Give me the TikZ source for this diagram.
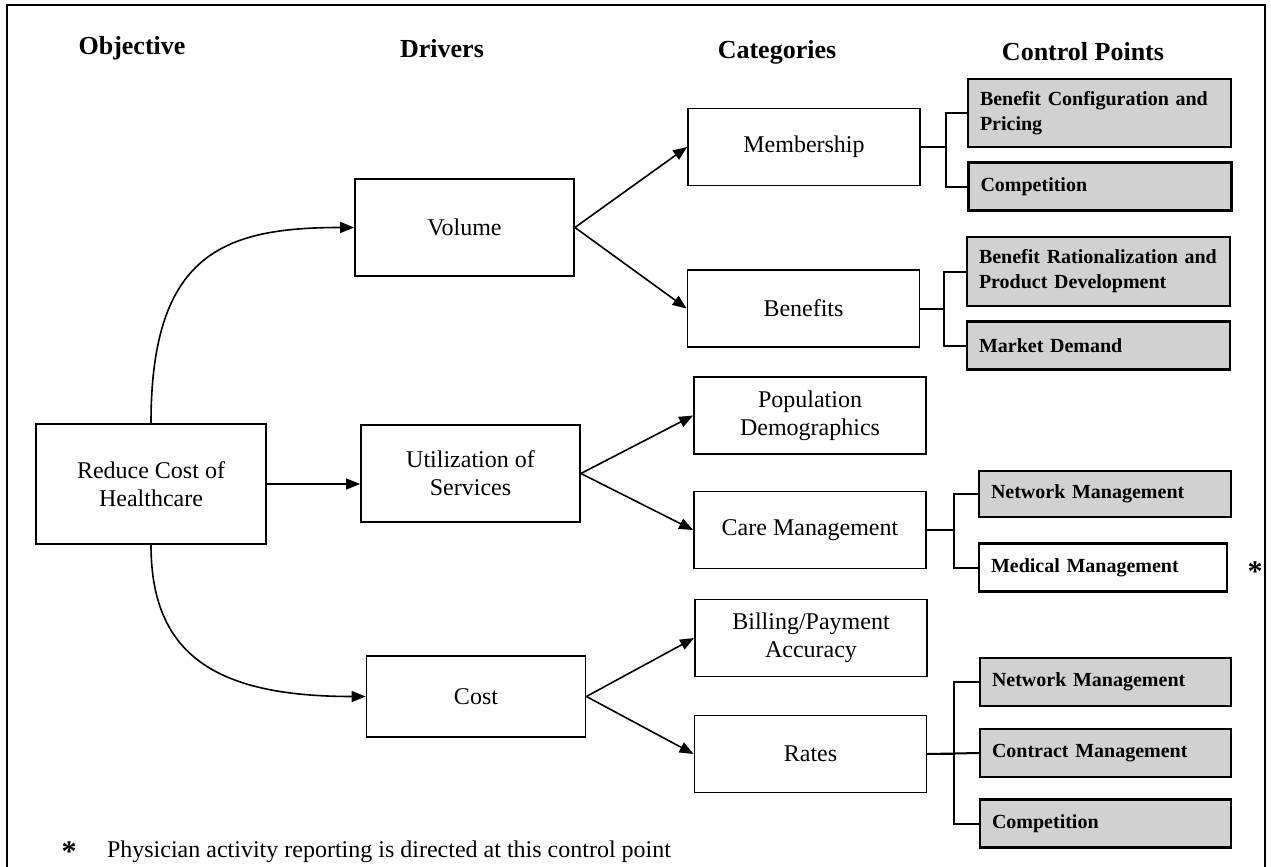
\documentclass[tikz,border=0pt]{standalone}
\usepackage{fontspec}
\setmainfont{Liberation Serif}
\usetikzlibrary{arrows.meta}

\begin{document}
\begin{tikzpicture}[x=0.5pt, y=-0.5pt,
    hdr/.style={font=\fontsize{13}{15}\selectfont\bfseries},
    objblk/.style={draw, line width=0.9pt, minimum width=115pt,
                   minimum height=60pt, align=center,
                   font=\fontsize{12}{14}\selectfont},
    drvblk/.style={objblk, minimum width=109.5pt, minimum height=48.5pt},
    catblk/.style={objblk, minimum width=116pt, minimum height=38.5pt},
    ctlblk/.style={draw, line width=1.1pt, fill=black!18, align=left,
                   inner xsep=6pt, text width=119.5pt, minimum height=24pt,
                   font=\fontsize{10}{12.5}\selectfont\bfseries},
    starlbl/.style={inner sep=0pt, font=\fontsize{15}{15}\selectfont\bfseries},
    arw/.style={-{Triangle[length=7pt,width=5.5pt]}, line width=0.8pt},
    lnk/.style={line width=1pt}
  ]
    \useasboundingbox (0,0) rectangle (1271,867);
    \draw[line width=1.2pt] (7,867) -- (7,5) -- (1265,5) -- (1265,867);

    % column headings
    \node[hdr] (hobj)  at (132,48)  {Objective};
    \node[hdr] (hdrv)  at (442,49)  {Drivers};
    \node[hdr] (hcat)  at (777,52)  {Categories};
    \node[hdr] (hctl)  at (1083,52) {Control Points};

    \node[objblk] (reduce) at (151,484)   {Reduce Cost of\\Healthcare};

    \node[drvblk] (volume) at (464.5,227.5) {Volume};
    \node[drvblk] (util)   at (470.5,473.5) {Utilization of\\Services};
    \node[drvblk, minimum height=40.5pt] (cost) at (476,696.5) {Cost};

    \node[catblk] (member)  at (804,147)   {Membership};
    \node[catblk] (benef)   at (803.5,308.5) {Benefits};
    \node[catblk] (popul)   at (810,415.5) {Population\\Demographics};
    \node[catblk] (care)    at (810,530)   {Care Management};
    \node[catblk] (billing) at (811,638)   {Billing/Payment\\Accuracy};
    \node[catblk] (rates)   at (810.5,754) {Rates};

    \node[ctlblk, minimum height=34pt] (config) at (1099.5,113) {Benefit Configuration and\\Pricing};
    \node[ctlblk] (compa)  at (1100,186.5) {Competition};
    \node[ctlblk, minimum height=34.5pt] (ration) at (1098.5,271.5) {Benefit Rationalization and\\Product Development};
    \node[ctlblk] (market) at (1098.5,345.5) {Market Demand};

    \node[ctlblk, text width=114pt, minimum height=23pt] (netcare) at (1105,494) {Network Management};
    \node[ctlblk, text width=112pt, fill=white] (medical) at (1103,567.5) {Medical Management};
    \node[ctlblk, text width=113.5pt] (netrate)  at (1105.5,682) {Network Management};
    \node[ctlblk, text width=113.5pt] (contract) at (1105.5,753) {Contract Management};
    \node[ctlblk, text width=113.5pt] (compb)    at (1105.5,823.5) {Competition};

    \node[starlbl] (star) at (1255,572) {*};

    % objective to drivers
    \draw[arw] (reduce.north) .. controls +(0,-170) and +(-130,0) .. (volume.west);
    \draw[arw] (reduce.south) .. controls +(0,110) and +(-150,0) .. (cost.west);
    \draw[arw] (reduce.east) -- (reduce.east -| util.west);

    % drivers to categories
    \draw[arw] (volume.east) -- (member.west);
    \draw[arw] (volume.east) -- (benef.west);
    \draw[arw] (util.east) -- (popul.west);
    \draw[arw] (util.east) -- (care.west);
    \draw[arw] (cost.east) -- (billing.west);
    \draw[arw] (cost.east) -- (rates.west);

    % categories to control points
    \draw[lnk] (member.east) -- ++(25,0) |- (config.west);
    \draw[lnk] (member.east) -- ++(25,0) |- (compa.west);
    \draw[lnk] (benef.east) -- ++(24,0) |- (ration.west);
    \draw[lnk] (benef.east) -- ++(24,0) |- (market.west);
    \draw[lnk] (care.east) -- ++(27,0) |- (netcare.west);
    \draw[lnk] (care.east) -- ++(27,0) |- (medical.west);
    \draw[lnk] (rates.east) -- ++(27,0) |- (netrate.west);
    \draw[lnk] (rates.east) -- (contract.west);
    \draw[lnk] (rates.east) -- ++(27,0) |- (compb.west);

    \node[starlbl] (fnstar) at (69,852) {*};
    \node[anchor=west, font=\fontsize{12}{14}\selectfont] (fnote) at (100,852)
      {Physician activity reporting is directed at this control point};
  \end{tikzpicture}
\end{document}
